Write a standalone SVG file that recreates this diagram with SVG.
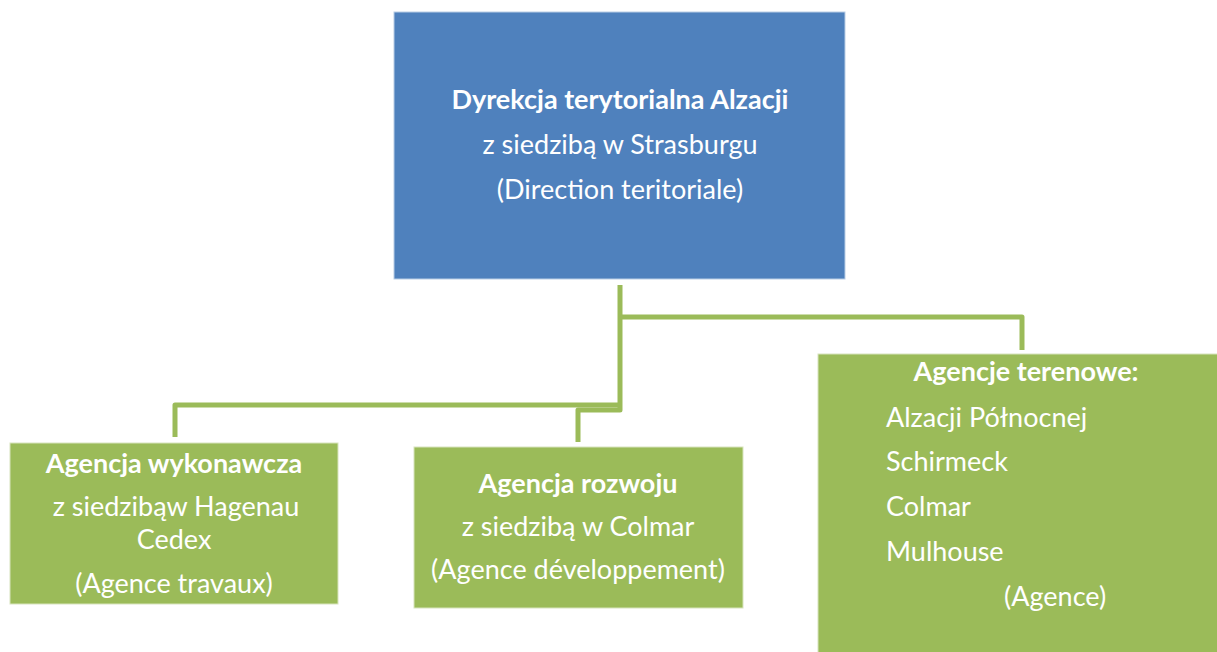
<svg xmlns="http://www.w3.org/2000/svg" width="1217" height="652" viewBox="0 0 1217 652">
<style>
.t{font-family:Lato,"Open Sans","Liberation Sans",sans-serif;font-size:27px;fill:#ffffff}
.b{font-weight:bold}
.c{text-anchor:middle}
.blue{fill:#4F81BD;stroke:#B9CDE5;stroke-width:1}
.green{fill:#9BBB59;stroke:#D7E4BD;stroke-width:1}
.conn{fill:none;stroke:#9BBB59;stroke-width:5;stroke-linejoin:round}
</style>
<rect width="1217" height="652" fill="#ffffff"/>
<g id="connectors">
<path class="conn" d="M620,285 V410 H578 V442"/>
<path class="conn" d="M620,405 H175 V437"/>
<path class="conn" d="M620,317 H1022 V350"/>
</g>
<g id="node-direction">
<rect class="blue" x="394" y="12" width="451" height="267"/>
<text class="t b c" x="620" y="109">Dyrekcja terytorialna Alzacji</text>
<text class="t c" x="620" y="154">z siedzibą w Strasburgu</text>
<text class="t c" x="620" y="199">(Direction teritoriale)</text>
</g>
<g id="node-wykonawcza">
<rect class="green" x="10" y="443" width="328" height="161"/>
<text class="t b c" x="174" y="473">Agencja wykonawcza</text>
<text class="t c" x="176" y="516">z siedzibąw Hagenau</text>
<text class="t c" x="174" y="549">Cedex</text>
<text class="t c" x="174" y="593">(Agence travaux)</text>
</g>
<g id="node-rozwoju">
<rect class="green" x="414" y="447" width="329" height="161"/>
<text class="t b c" x="578" y="493">Agencja rozwoju</text>
<text class="t c" x="578" y="536">z siedzibą w Colmar</text>
<text class="t c" x="578" y="579">(Agence développement)</text>
</g>
<g id="node-terenowe">
<rect class="green" x="818" y="354" width="400" height="300"/>
<text class="t b c" x="1026" y="381">Agencje terenowe:</text>
<text class="t" x="886" y="427">Alzacji Północnej</text>
<text class="t" x="886" y="471">Schirmeck</text>
<text class="t" x="886" y="516">Colmar</text>
<text class="t" x="886" y="561">Mulhouse</text>
<text class="t" x="1004" y="606">(Agence)</text>
</g>
</svg>
